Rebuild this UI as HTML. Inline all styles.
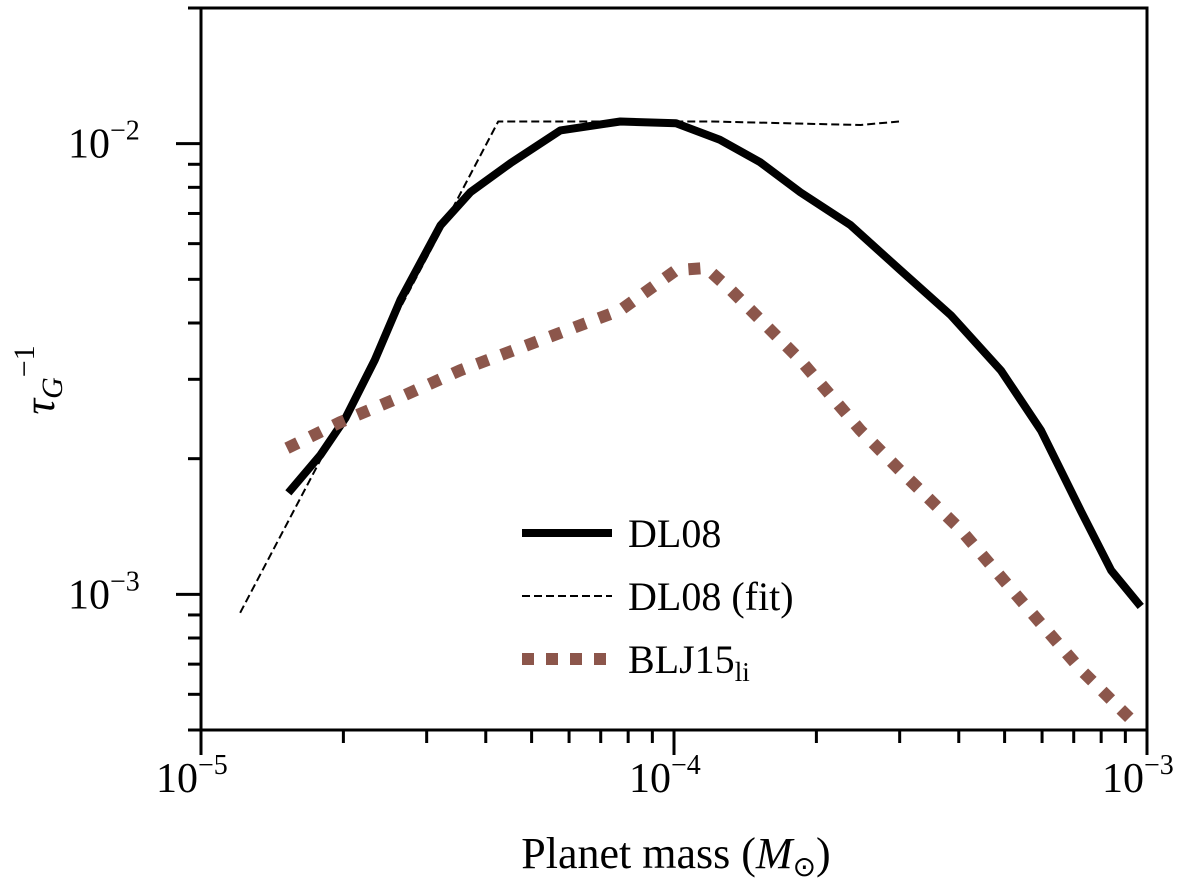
<!DOCTYPE html>
<html><head><meta charset="utf-8"><style>
body{margin:0;background:#fff}
svg text{font-family:"Liberation Serif",serif;fill:#000}
</style></head><body>
<svg id="chart" width="1200" height="881" xmlns="http://www.w3.org/2000/svg">
<g id="plot"></g>
<g>
<line x1="522" y1="533" x2="612" y2="533" stroke="#000" stroke-width="8"/>
<text x="628" y="547" font-size="40">DL08</text>
<line x1="522" y1="596" x2="612" y2="596" stroke="#000" stroke-width="2" stroke-dasharray="8,4"/>
<text x="628" y="610" font-size="40">DL08 (fit)</text>
<line x1="522" y1="659" x2="612" y2="659" stroke="#8c564b" stroke-width="12" stroke-dasharray="12,12"/>
<text x="628" y="673" font-size="40">BLJ15<tspan font-size="27" dy="8">li</tspan></text>
</g>
<text x="676" y="868" font-size="44" text-anchor="middle">Planet mass (<tspan font-style="italic">M</tspan><tspan font-size="28" dy="8">⊙</tspan><tspan dy="-8">)</tspan></text>
<text transform="translate(54,380) rotate(-90)" font-size="44" text-anchor="middle"><tspan font-style="italic">τ</tspan><tspan font-style="italic" font-size="30" dy="8">G</tspan><tspan font-size="30" dy="-28">−1</tspan></text>
</svg>
<script>
const dlX=[1.53e-5,1.79e-5,2.02e-5,2.33e-5,2.64e-5,3.21e-5,3.71e-5,4.51e-5,5.75e-5,7.7e-5,1.01e-4,1.25e-4,1.52e-4,1.85e-4,2.36e-4,3.01e-4,3.85e-4,4.91e-4,5.97e-4,7.25e-4,8.4e-4,9.7e-4];
const dlY=[1.68e-3,2.04e-3,2.46e-3,3.31e-3,4.5e-3,6.59e-3,7.8e-3,9.05e-3,1.07e-2,1.12e-2,1.11e-2,1.02e-2,9.1e-3,7.8e-3,6.6e-3,5.24e-3,4.16e-3,3.14e-3,2.31e-3,1.53e-3,1.13e-3,9.4e-4];
const fitX=[1.21e-5,4.25e-5,1.2e-4,2.48e-4,2.99e-4];
const fitY=[9.1e-4,1.12e-2,1.12e-2,1.1e-2,1.12e-2];
const bljX=[1.52e-5,1.97e-5,2.64e-5,3.53e-5,7.7e-5,1.01e-4,1.17e-4,1.32e-4,1.85e-4,2.48e-4,3.01e-4,4.04e-4,5.41e-4,7.25e-4,9.38e-4];
const bljY=[2.11e-3,2.41e-3,2.74e-3,3.14e-3,4.27e-3,5.24e-3,5.3e-3,4.73e-3,3.31e-3,2.31e-3,1.88e-3,1.39e-3,9.7e-4,6.8e-4,5.2e-4];
const xMajor=[1e-5,1e-4,1e-3];
const xMajorLabels=["−5","−4","−3"];
const yMajor=[1e-3,1e-2];
const yMajorLabels=["−3","−2"];
const L=201,R=1147,T=8,B=730;
const xmin=-5,xmax=-3,ymin=Math.log10(5e-4),ymax=Math.log10(2e-2);
const sx=v=>L+(Math.log10(v)-xmin)/(xmax-xmin)*(R-L);
const sy=v=>B-(Math.log10(v)-ymin)/(ymax-ymin)*(B-T);
const NS="http://www.w3.org/2000/svg";
const g=document.getElementById('plot');
function mk(t,a){const e=document.createElementNS(NS,t);for(const k in a)e.setAttribute(k,a[k]);g.appendChild(e);return e;}
function line(xs,ys,stroke,w,dash,name){
const p=mk('polyline',{points:xs.map((x,i)=>sx(x)+','+sy(ys[i])).join(' '),fill:'none',stroke:stroke,'stroke-width':w,'stroke-dasharray':dash,'stroke-linejoin':'round'});


}
const fr=mk('rect',{x:L,y:T,width:R-L,height:B-T,fill:'none',stroke:'#000','stroke-width':3});


for(let d=-5;d<-3;d++)for(let m=1;m<10;m++){const v=m*Math.pow(10,d);const x=sx(v);
const t=mk('line',{x1:x,x2:x,y1:B,y2:B+(m==1?25:13),stroke:'#000','stroke-width':3});

}
{const t=mk('line',{x1:R,x2:R,y1:B,y2:B+25,stroke:'#000','stroke-width':3});

}
for(let d=-4;d<-1;d++)for(let m=1;m<10;m++){const v=m*Math.pow(10,d);if(v<5e-4||v>2e-2)continue;const y=sy(v);
const t=mk('line',{x1:L,x2:L-(m==1?25:13),y1:y,y2:y,stroke:'#000','stroke-width':3});

}
xMajor.forEach((v,i)=>{const t=mk('text',{x:sx(v)-45,y:B+62,'font-size':42});
t.innerHTML='10<tspan font-size="28" dy="-18">'+xMajorLabels[i]+'</tspan>';

});
yMajor.forEach((v,i)=>{const t=mk('text',{x:68,y:sy(v)+14,'font-size':42});
t.innerHTML='10<tspan font-size="28" dy="-18">'+yMajorLabels[i]+'</tspan>';

});
line(fitX,fitY,'#000',2,'8,4','series-dl08-fit');
line(dlX,dlY,'#000',8,'none','series-dl08');
line(bljX,bljY,'#8c564b',12,'12,14','series-blj15');
</script>
</body></html>
